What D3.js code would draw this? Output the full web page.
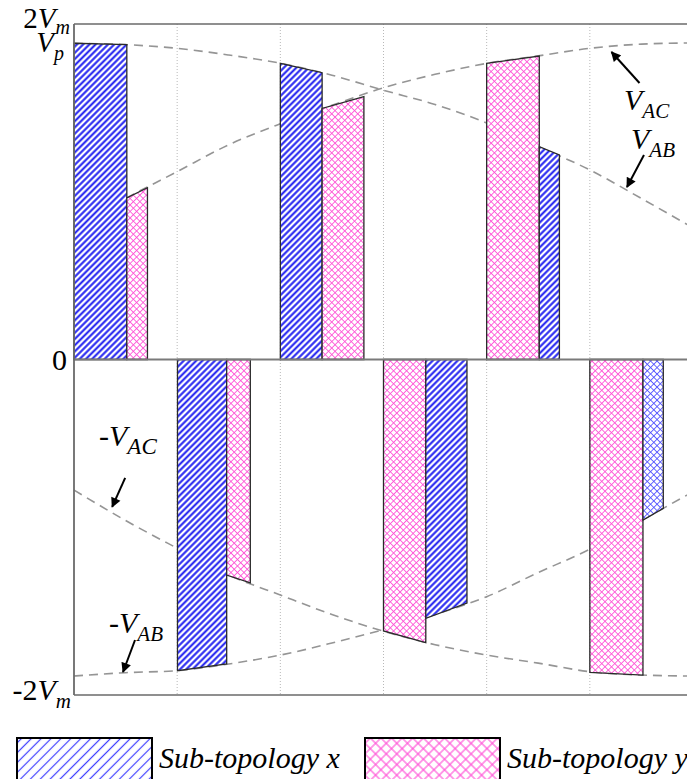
<!DOCTYPE html>
<meta charset="utf-8">
<style>
body { margin: 0; background: #fff; }
text { font-family: "Liberation Serif", "Times New Roman", serif; fill: #000; }
.lab { font-style: italic; }
</style>
<svg width="687" height="779"></svg>
<script src="https://cdn.jsdelivr.net/npm/d3@7"></script>
<script>

// angle (deg) along the sector, and the four line-voltage envelopes in units of Vm
var angles = [0, 5, 10, 15, 20, 25, 30, 35, 40, 45, 50, 55, 60];
var vAB    = [1.885, 1.877, 1.855, 1.815, 1.766, 1.695, 1.605, 1.52, 1.41, 1.27, 1.13, 0.96, 0.785];
var vAC    = [0.785, 0.96, 1.12, 1.28, 1.405, 1.515, 1.62, 1.70, 1.765, 1.81, 1.855, 1.88, 1.887];
var negVAB = [-1.887, -1.867, -1.855, -1.815, -1.762, -1.69, -1.61, -1.52, -1.414, -1.27, -1.131, -0.96, -0.788];
var negVAC = [-0.778, -0.96, -1.125, -1.285, -1.404, -1.52, -1.62, -1.70, -1.762, -1.81, -1.861, -1.881, -1.887];

// switching intervals: start/end angle, voltage at start/end, which sub-topology
var barStart = [0, 5.12, 20, 24.05, 40, 45.1, 10.03, 14.8, 30, 34.1, 50, 55.15];
var barEnd   = [5.12, 7.12, 24.05, 28.1, 45.1, 47.05, 14.8, 17.09, 34.1, 38.09, 55.15, 57.12];
var barFrom  = [1.885, 0.963, 1.766, 1.497, 1.766, 1.269, -1.855, -1.285, -1.618, -1.543, -1.865, -0.957];
var barTo    = [1.877, 1.024, 1.710, 1.567, 1.809, 1.219, -1.815, -1.331, -1.688, -1.452, -1.881, -0.887];
var barType  = ["x", "y", "x", "y", "y", "x", "x", "y", "y", "x", "y", "xc"];

var gridAngles = [10, 20, 30, 40, 50];
var vp = 1.885;
var legendNames = ["Sub-topology x", "Sub-topology y"];

var svg = d3.select("svg");

var x = d3.scaleLinear().domain([0, 60]).range([74, 693]);
var y = d3.scaleLinear().domain([-2, 2]).range([695, 24]);

var defs = svg.append("defs");

function stripes(id, gap, color, w) {
    var p = defs.append("pattern")
        .attr("id", id)
        .attr("patternUnits", "userSpaceOnUse")
        .attr("width", gap).attr("height", gap)
        .attr("patternTransform", "rotate(45)");
    p.append("rect").attr("width", gap).attr("height", gap).attr("fill", "#fff");
    p.append("line").attr("x1", gap / 2).attr("x2", gap / 2)
        .attr("y1", 0).attr("y2", gap)
        .attr("stroke", color).attr("stroke-width", w);
}

function hatch(id, gap, color, w) {
    var p = defs.append("pattern")
        .attr("id", id)
        .attr("patternUnits", "userSpaceOnUse")
        .attr("width", gap).attr("height", gap)
        .attr("patternTransform", "rotate(45)");
    p.append("rect").attr("width", gap).attr("height", gap).attr("fill", "#fff");
    p.append("line").attr("x1", gap / 2).attr("x2", gap / 2).attr("y1", 0).attr("y2", gap)
        .attr("stroke", color).attr("stroke-width", w);
    p.append("line").attr("y1", gap / 2).attr("y2", gap / 2).attr("x1", 0).attr("x2", gap)
        .attr("stroke", color).attr("stroke-width", w);
}

stripes("pat-x", 4.4, "#1c1cf0", 2);
hatch("pat-y", 4.6, "#ff4fd6", 0.85);
hatch("pat-xc", 4.6, "#4f4fff", 0.85);
stripes("leg-x", 7, "#3d3dff", 1.2);
hatch("leg-y", 7.5, "#ff4fd6", 1.1);

// vertical dotted grid
svg.selectAll(".grid")
    .data(gridAngles)
    .enter().append("line")
    .attr("class", "grid")
    .attr("x1", d => x(d)).attr("x2", d => x(d))
    .attr("y1", y(2)).attr("y2", y(-2))
    .attr("stroke", "#b8b8b8")
    .attr("stroke-width", 1)
    .attr("stroke-dasharray", "1,2");

// dashed envelopes
var line = d3.line()
    .x((d, i) => x(angles[i]))
    .y(d => y(d))
    .curve(d3.curveMonotoneX);

[vAB, vAC, negVAB, negVAC].forEach(function(s) {
    svg.append("path")
        .datum(s)
        .attr("d", line)
        .attr("fill", "none")
        .attr("stroke", "#959595")
        .attr("stroke-width", 1.6)
        .attr("stroke-dasharray", "9,6");
});

// bars
var bars = barStart.map(function(s, i) {
    return { s: s, e: barEnd[i], a: barFrom[i], b: barTo[i], t: barType[i] };
});

svg.selectAll(".bar")
    .data(bars)
    .enter().append("path")
    .attr("class", "bar")
    .attr("d", function(d) {
        return "M" + x(d.s) + "," + y(0) +
            "L" + x(d.s) + "," + y(d.a) +
            "L" + x(d.e) + "," + y(d.b) +
            "L" + x(d.e) + "," + y(0) + "Z";
    })
    .attr("fill", d => "url(#pat-" + d.t + ")")
    .attr("stroke", "#2a2a2a")
    .attr("stroke-width", 1.3);

// frame
svg.append("line").attr("x1", x(0)).attr("x2", 687).attr("y1", y(2)).attr("y2", y(2))
    .attr("stroke", "#6a6a6a").attr("stroke-width", 1.6);
svg.append("line").attr("x1", x(0)).attr("x2", 687).attr("y1", y(-2)).attr("y2", y(-2))
    .attr("stroke", "#6a6a6a").attr("stroke-width", 1.6);
svg.append("line").attr("x1", x(0)).attr("x2", 687).attr("y1", y(0)).attr("y2", y(0))
    .attr("stroke", "#7a7a7a").attr("stroke-width", 2);
svg.append("line").attr("x1", x(0)).attr("x2", x(0)).attr("y1", y(2)).attr("y2", y(-2))
    .attr("stroke", "#6a6a6a").attr("stroke-width", 1.8);

// labels with italic symbol + subscript
function sublabel(px, py, pre, main, sub, size, anchor, subScale, subDy) {
    var t = svg.append("text")
        .attr("x", px).attr("y", py)
        .attr("text-anchor", anchor || "start")
        .style("font-size", size + "px");
    if (pre) t.append("tspan").text(pre);
    t.append("tspan").style("font-style", "italic").text(main);
    if (sub) t.append("tspan").style("font-style", "italic")
        .style("font-size", Math.round(size * (subScale || 0.7)) + "px")
        .attr("dy", size * (subDy || 0.26)).text(sub);
    return t;
}

sublabel(70, y(2) + 4, "2", "V", "m", 29, "end", 0.7, 0.2);
sublabel(64, y(vp) + 9, "", "V", "p", 29, "end");
svg.append("text").attr("x", 67).attr("y", y(0) + 10)
    .attr("text-anchor", "end").style("font-size", "30px").text("0");
sublabel(71, y(-2) + 5, "-2", "V", "m", 30, "end");

// curve labels and arrows
defs.append("marker")
    .attr("id", "arrow")
    .attr("viewBox", "0 0 10 10")
    .attr("refX", 9).attr("refY", 5)
    .attr("markerWidth", 5.5).attr("markerHeight", 5)
    .attr("markerUnits", "strokeWidth")
    .attr("orient", "auto")
    .append("path").attr("d", "M0,0L10,5L0,10z").attr("fill", "#000");

function arrow(a, v, dx, dy) {
    svg.append("line")
        .attr("x1", x(a) + dx).attr("y1", y(v) + dy)
        .attr("x2", x(a)).attr("y2", y(v))
        .attr("stroke", "#000").attr("stroke-width", 2)
        .attr("marker-end", "url(#arrow)");
}

sublabel(624, 110, "", "V", "AC", 30);
arrow(52.1, 1.833, 28, 31);
sublabel(631, 149, "", "V", "AB", 30);
arrow(53.6, 1.028, 17, -32);
sublabel(99, 446, "-", "V", "AC", 30, "start", 0.78);
arrow(3.7, -0.879, 13, -29);
sublabel(109, 633, "-", "V", "AB", 30);
arrow(4.75, -1.863, 12, -32);

// legend
var legX = [17, 365];
var leg = svg.selectAll(".legend")
    .data(legendNames)
    .enter().append("g")
    .attr("class", "legend")
    .attr("transform", (d, i) => "translate(" + legX[i] + ",738)");

leg.append("rect")
    .attr("width", 135).attr("height", 50)
    .attr("fill", (d, i) => i === 0 ? "url(#leg-x)" : "url(#leg-y)")
    .attr("stroke", "#000").attr("stroke-width", 2);

leg.append("text")
    .attr("class", "lab")
    .attr("x", 142).attr("y", 30)
    .style("font-size", "30px")
    .text(d => d);

</script>
